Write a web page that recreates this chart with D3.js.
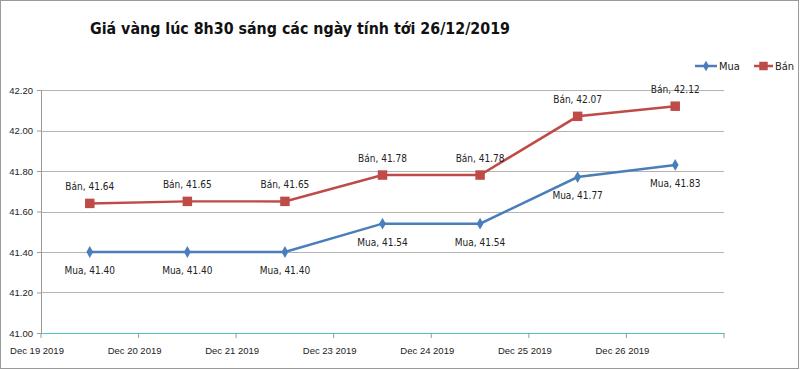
<!DOCTYPE html>
<html lang="vi">
<head>
<meta charset="utf-8">
<title>Giá vàng</title>
<script src="https://d3js.org/d3.v7.min.js"></script>
<style>
  body { margin: 0; background: #fff; }
  svg { font-family: "DejaVu Sans Condensed", "Open Sans", sans-serif; }
</style>
</head>
<body>
<svg id="chart" width="800" height="370"></svg>
<script>
// data
var days = ["Dec 19 2019", "Dec 20 2019", "Dec 21 2019", "Dec 23 2019", "Dec 24 2019", "Dec 25 2019", "Dec 26 2019"];
var mua = [41.40, 41.40, 41.40, 41.54, 41.54, 41.77, 41.83];
var ban = [41.64, 41.65, 41.65, 41.78, 41.78, 42.07, 42.12];
var yTicks = [41.00, 41.20, 41.40, 41.60, 41.80, 42.00, 42.20];

var svg = d3.select("#chart");
var pLeft = 41, pRight = 724, pTop = 90, pBottom = 333;

// outer frame
svg.append("rect")
    .attr("x", 0.5).attr("y", 0.5)
    .attr("width", 798).attr("height", 368)
    .attr("fill", "none").attr("stroke", "#9a9a9a");

svg.append("text")
    .attr("x", 90).attr("y", 34)
    .attr("font-size", "16px")
    .attr("font-weight", "bold")
    .attr("fill", "#111")
    .attr("textLength", 420)
    .attr("lengthAdjust", "spacingAndGlyphs")
    .text("Giá vàng lúc 8h30 sáng các ngày tính tới 26/12/2019");

var x = d3.scaleBand().domain(days).range([pLeft, pRight]);
var y = d3.scaleLinear().domain([41.0, 42.2]).range([pBottom, pTop]);

// grid lines
svg.append("g")
    .selectAll("line")
    .data(yTicks.slice(1))
    .enter().append("line")
    .attr("x1", pLeft).attr("x2", pRight)
    .attr("y1", function (d) { return Math.round(y(d)) + 0.5; })
    .attr("y2", function (d) { return Math.round(y(d)) + 0.5; })
    .attr("stroke", "#b3b3b3").attr("stroke-width", 1);

// y axis
var yAxis = svg.append("g")
    .attr("transform", "translate(" + pLeft + ",0)")
    .call(d3.axisLeft(y).tickValues(yTicks).tickFormat(d3.format(".2f")).tickSize(4));
yAxis.select(".domain").attr("stroke", "#999");
yAxis.selectAll(".tick line").attr("stroke", "#999");
yAxis.selectAll("text").attr("font-size", "9.5px").attr("fill", "#222").attr("x", -8);

// x axis
var xAxis = svg.append("g")
    .attr("transform", "translate(0," + pBottom + ")")
    .call(d3.axisBottom(x).tickSize(0));
xAxis.select(".domain").attr("stroke", "#4bc6c6").attr("stroke-width", 1.2);
xAxis.selectAll(".tick").remove();
var edges = days.map(function (d) { return x(d); }).concat([pRight]);
xAxis.selectAll(".edge")
    .data(edges)
    .enter().append("line")
    .attr("x1", function (d) { return d; }).attr("x2", function (d) { return d; })
    .attr("y1", 0).attr("y2", 5)
    .attr("stroke", "#999");
xAxis.selectAll(".lbl")
    .data(days)
    .enter().append("text")
    .attr("x", function (d) { return x(d) - 4; })
    .attr("y", 21)
    .attr("font-size", "9.5px")
    .attr("fill", "#222")
    .text(function (d) { return d; });

var cx = function (d, i) { return x(days[i]) + x.bandwidth() / 2; };
var line = d3.line().x(function (d, i) { return cx(d, i); }).y(function (d) { return y(d); });

var series = [
    { name: "Mua", values: mua, color: "#4a7ebb", symbol: d3.symbolDiamond, size: 40, dy: 22 },
    { name: "Bán", values: ban, color: "#be4b48", symbol: d3.symbolSquare, size: 90, dy: -13 }
];

series.forEach(function (s) {
    svg.append("path")
        .datum(s.values)
        .attr("fill", "none")
        .attr("stroke", s.color)
        .attr("stroke-width", 2.5)
        .attr("d", line);
    svg.append("g").selectAll("path")
        .data(s.values)
        .enter().append("path")
        .attr("transform", function (d, i) { return "translate(" + cx(d, i) + "," + y(d) + ")"; })
        .attr("d", d3.symbol().type(s.symbol).size(s.size))
        .attr("fill", s.color);
    svg.append("g").selectAll("text")
        .data(s.values)
        .enter().append("text")
        .attr("x", function (d, i) { return cx(d, i); })
        .attr("y", function (d) { return y(d) + s.dy; })
        .attr("text-anchor", "middle")
        .attr("font-size", "10px")
        .attr("fill", "#222")
        .text(function (d) { return s.name + ", " + d3.format(".2f")(d); });
});

// legend
var legend = [{ s: series[0], x: 695, tx: 719 }, { s: series[1], x: 754, tx: 775 }];
legend.forEach(function (l) {
    var g = svg.append("g").attr("transform", "translate(" + l.x + ",66)");
    g.append("line").attr("x1", 0).attr("x2", l.tx - l.x - 2)
        .attr("stroke", l.s.color).attr("stroke-width", 2.5);
    g.append("path")
        .attr("transform", "translate(" + (l.tx - l.x - 2) / 2 + ",0)")
        .attr("d", d3.symbol().type(l.s.symbol).size(l.s.size * 0.8))
        .attr("fill", l.s.color);
    svg.append("text")
        .attr("x", l.tx).attr("y", 70)
        .attr("font-size", "11px")
        .attr("fill", "#222")
        .text(l.s.name);
});
</script>
</body>
</html>
